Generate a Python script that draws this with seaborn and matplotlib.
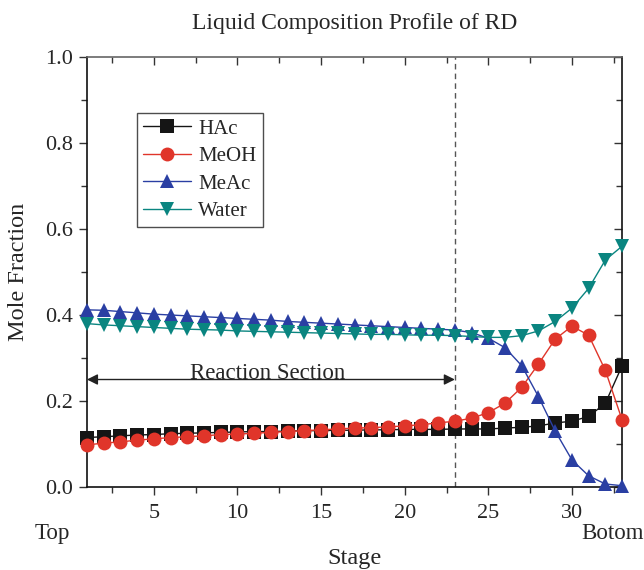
import numpy as np
import pandas as pd
import matplotlib
matplotlib.use("Agg")
import matplotlib.pyplot as plt
from matplotlib.ticker import MultipleLocator, FormatStrFormatter
import seaborn as sns

stages = list(range(1, 34))

hac = [0.115, 0.117, 0.119, 0.121, 0.122, 0.124, 0.125, 0.126, 0.127, 0.128,
       0.129, 0.129, 0.130, 0.131, 0.131, 0.132, 0.132, 0.133, 0.133, 0.134,
       0.134, 0.134, 0.135, 0.135, 0.135, 0.137, 0.139, 0.142, 0.149, 0.153,
       0.164, 0.195, 0.282]
meoh = [0.098, 0.102, 0.105, 0.109, 0.112, 0.115, 0.117, 0.119, 0.122, 0.123,
        0.125, 0.127, 0.129, 0.131, 0.133, 0.135, 0.137, 0.138, 0.140, 0.142,
        0.145, 0.149, 0.153, 0.160, 0.173, 0.195, 0.232, 0.286, 0.344, 0.374,
        0.353, 0.271, 0.156]
meac = [0.412, 0.411, 0.408, 0.405, 0.402, 0.400, 0.398, 0.396, 0.394, 0.392,
        0.390, 0.388, 0.385, 0.383, 0.381, 0.379, 0.377, 0.375, 0.373, 0.371,
        0.369, 0.367, 0.365, 0.359, 0.346, 0.324, 0.282, 0.210, 0.130, 0.063,
        0.026, 0.007, 0.003]
water = [0.380, 0.377, 0.375, 0.373, 0.371, 0.369, 0.367, 0.366, 0.365, 0.363,
         0.362, 0.361, 0.360, 0.359, 0.358, 0.357, 0.356, 0.355, 0.355, 0.354,
         0.353, 0.353, 0.352, 0.350, 0.348, 0.348, 0.352, 0.363, 0.385, 0.416,
         0.462, 0.528, 0.560]

components = ["HAc", "MeOH", "MeAc", "Water"]
colors = ["#151515", "#e0352a", "#2a3fa3", "#0a8580"]
markers = ["s", "o", "^", "v"]
reaction_end = 23

df = pd.concat([
    pd.DataFrame({"Stage": stages, "Mole Fraction": vals, "Component": name})
    for name, vals in zip(components, [hac, meoh, meac, water])
])

sns.set_theme(style="ticks")
plt.rcParams["font.family"] = ["Liberation Serif", "DejaVu Serif"]

fig = plt.figure(figsize=(6.44, 5.70), dpi=100)
ax = fig.add_axes([0.135, 0.1456, 0.831, 0.7544])

sns.lineplot(data=df, x="Stage", y="Mole Fraction", hue="Component",
             style="Component", hue_order=components, style_order=components,
             palette=colors, markers=markers, dashes=False, markersize=10,
             markeredgewidth=0, linewidth=1.0, clip_on=False, zorder=3, ax=ax)

ax.set_xlim(1, 33)
ax.set_ylim(0, 1.0)
ax.xaxis.set_major_locator(MultipleLocator(5))
ax.xaxis.set_minor_locator(MultipleLocator(2.5))
ax.yaxis.set_major_locator(MultipleLocator(0.2))
ax.yaxis.set_minor_locator(MultipleLocator(0.1))
ax.yaxis.set_major_formatter(FormatStrFormatter("%.1f"))

ax.tick_params(axis="both", which="both", labelsize=16, width=1.0, color="#333333")
ax.tick_params(axis="both", which="major", length=6)
ax.tick_params(axis="both", which="minor", length=4)
ax.tick_params(axis="x", which="both", top=True, bottom=True, pad=6.5)
ax.tick_params(axis="y", which="both", right=True, pad=4)
ax.xaxis.set_tick_params(which="both", direction="out")
ax.yaxis.set_tick_params(which="both", direction="out")
# mirrored ticks on top and right point inward
for t in ax.xaxis.get_major_ticks() + ax.xaxis.get_minor_ticks():
    t.tick2line.set_marker(3)
for t in ax.yaxis.get_major_ticks() + ax.yaxis.get_minor_ticks():
    t.tick2line.set_marker(0)

for sp in ax.spines.values():
    sp.set_linewidth(1.2)
    sp.set_color("#111111")
ax.spines["top"].set_color("#666666")

ax.set_xlabel("Stage", fontsize=17.5)
ax.xaxis.set_label_coords(0.5, -0.142)
ax.set_ylabel("Mole Fraction", fontsize=17.5, labelpad=12)
ax.set_title("Liquid Composition Profile of RD", fontsize=17, pad=20)

ax.text(-0.032, -0.108, "Top", transform=ax.transAxes, ha="right", va="center", fontsize=16.5)
ax.text(1.04, -0.108, "Botom", transform=ax.transAxes, ha="right", va="center", fontsize=16.5)

ax.axvline(reaction_end, color="#555555", linestyle=(0, (4, 3)), linewidth=1.0, zorder=1)
ax.annotate("", xy=(1, 0.25), xytext=(reaction_end, 0.25),
            arrowprops=dict(arrowstyle="<|-|>", color="#222222", lw=1.0,
                            mutation_scale=16, shrinkA=0, shrinkB=0))
ax.text(11.8, 0.252, "Reaction Section", ha="center", va="baseline", fontsize=16.5)

leg = ax.legend(loc="upper left", bbox_to_anchor=(0.0935, 0.87), borderaxespad=0,
                fontsize=15, frameon=True, fancybox=False, edgecolor="#222222",
                borderpad=0.3, labelspacing=0.38, handlelength=2.3,
                handletextpad=0.35, title=None)
leg.get_frame().set_linewidth(1.0)
for h in leg.legend_handles:
    h.set_markersize(10)

fig.savefig("out.png", dpi=100)
